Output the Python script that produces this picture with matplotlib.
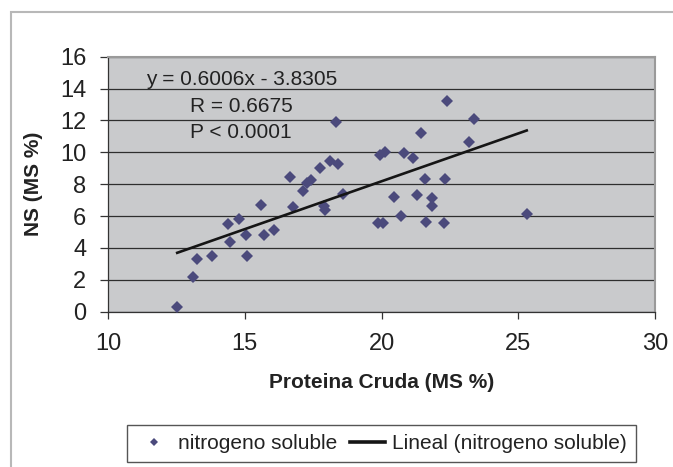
import numpy as np
import matplotlib
matplotlib.use("Agg")
import matplotlib.pyplot as plt
from matplotlib.patches import Rectangle

plt.rcParams['font.family'] = ['Liberation Sans', 'DejaVu Sans']

# proteina cruda (MS %) vs nitrogeno soluble (MS %)
pc = [12.53, 13.11, 13.27, 13.82, 14.40, 14.46, 14.80, 15.03, 15.08, 15.60,
      15.71, 16.07, 16.66, 16.75, 17.12, 17.27, 17.41, 17.75, 17.88, 17.95,
      18.12, 18.32, 18.42, 18.59, 19.93, 20.11, 19.88, 20.06, 20.45, 20.70,
      20.81, 21.15, 21.28, 21.43, 21.58, 21.64, 21.85, 21.85, 22.27, 22.33,
      22.38, 23.21, 23.38, 25.31]
ns = [0.31, 2.19, 3.30, 3.49, 5.52, 4.39, 5.81, 4.81, 3.49, 6.71,
      4.81, 5.10, 8.43, 6.54, 7.59, 8.09, 8.26, 8.99, 6.63, 6.38,
      9.43, 11.91, 9.28, 7.40, 9.82, 10.03, 5.54, 5.54, 7.21, 6.02,
      9.93, 9.62, 7.34, 11.20, 8.32, 5.64, 7.15, 6.63, 5.54, 8.32,
      13.21, 10.62, 12.10, 6.11]

# recta de regresion dada en el grafico
pendiente = 0.6006
intercepto = -3.8305
anotacion = ["y = 0.6006x - 3.8305", "R = 0.6675", "P < 0.0001"]

W, H = 673, 467
fig = plt.figure(figsize=(W / 100, H / 100), dpi=100)

# marco exterior del grafico (solo se ve arriba y a la izquierda)
fig.patches.append(Rectangle((11 / W, -0.1), 1.2, 1 - 12 / H + 0.1,
                             transform=fig.transFigure, fill=False,
                             edgecolor='#b8b8b8', lw=1.5))

ax = fig.add_axes([108 / W, 1 - 311.7 / H, 547 / W, 255 / H])
ax.set_facecolor('#c9cacc')

ax.set_xlim(10, 30)
ax.set_ylim(0, 16)
ax.set_xticks(np.arange(10, 31, 5))
ax.set_yticks(np.arange(0, 17, 2))
ax.yaxis.grid(True, color='#2e2e2e', lw=0.9)
ax.set_axisbelow(True)

xs = np.array([min(pc), max(pc)])
ax.plot(pc, ns, 'D', ms=6.6, color='#4b4a7c', mec='#4b4a7c', mew=0,
        label='nitrogeno soluble', zorder=3)
ax.plot(xs, pendiente * xs + intercepto, color='#151515', lw=1.9,
        label='Lineal (nitrogeno soluble)', zorder=4)

for s in ['top', 'right']:
    ax.spines[s].set_color('#9a9a9a')
    ax.spines[s].set_linewidth(1.5)
for s in ['left', 'bottom']:
    ax.spines[s].set_color('#333333')
    ax.spines[s].set_linewidth(0.9)

ax.tick_params(axis='y', length=6, width=0.9, color='#333333', pad=9.5,
               labelsize=17, labelcolor='#222222')
ax.tick_params(axis='x', length=5, width=0.9, color='#333333', pad=10,
               labelsize=17, labelcolor='#222222')

ax.set_xlabel('Proteina Cruda (MS %)', fontsize=15, fontweight='bold',
              color='#222222')
ax.xaxis.label.set_va('center')
ax.xaxis.set_label_coords(0.5, (311.7 - 382) / 255)
ax.set_ylabel('NS (MS %)', fontsize=15, fontweight='bold', color='#222222')
ax.yaxis.label.set_va('center')
ax.yaxis.set_label_coords((33 - 108) / 547, 0.5)

fig.text(145.7 / W, 1 - 85 / H, anotacion[0], fontsize=15, color='#222222')
fig.text(190 / W, 1 - 111.7 / H, anotacion[1], fontsize=15, color='#222222')
fig.text(190 / W, 1 - 138.3 / H, anotacion[2], fontsize=15, color='#222222')

leg = ax.legend(loc='center', bbox_to_anchor=(381.5 / W, 1 - 443.5 / H),
                bbox_transform=fig.transFigure, ncol=2, fontsize=15,
                frameon=True, fancybox=False, framealpha=1,
                edgecolor='#555555', handlelength=1.7, handletextpad=0.32,
                columnspacing=0.58, markerscale=0.55, borderpad=0.45)
leg.get_frame().set_linewidth(1.0)
leg.get_lines()[1].set_linewidth(2.6)
for t in leg.get_texts():
    t.set_color('#222222')

fig.savefig('out.png', dpi=100)
